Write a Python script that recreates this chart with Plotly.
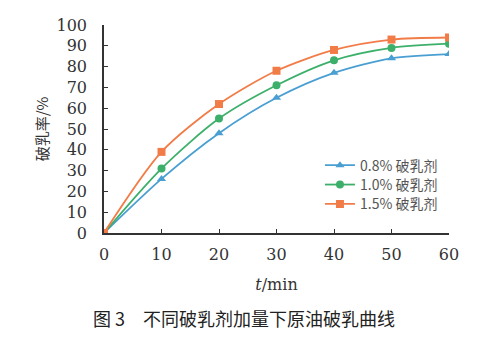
import plotly.graph_objects as go

# Demulsification time (min) and demulsification rate (%) per dosage
t_min = [0, 10, 20, 30, 40, 50, 60]
rate_08 = [0, 26, 48, 65, 77, 84, 86]
rate_10 = [0, 31, 55, 71, 83, 89, 91]
rate_15 = [0, 39, 62, 78, 88, 93, 94]

series_names = ["0.8% 破乳剂", "1.0% 破乳剂", "1.5% 破乳剂"]
series_values = [rate_08, rate_10, rate_15]
colors = ["#4a9fd2", "#3cb06a", "#f27c48"]
symbols = ["triangle-up", "circle", "square"]
legend_ids = ["legend", "legend2", "legend3"]
legend_rows = [0.324, 0.231, 0.138]

x_ticks = [0, 10, 20, 30, 40, 50, 60]
y_ticks = [0, 10, 20, 30, 40, 50, 60, 70, 80, 90, 100]

SERIF = "DejaVu Serif"
CJK = "Noto Sans CJK SC"
INK = "#333333"

fig = go.Figure()
for name, vals, col, sym, lg in zip(series_names, series_values, colors, symbols, legend_ids):
    fig.add_trace(go.Scatter(
        x=t_min, y=vals, name=name, mode="lines+markers", legend=lg,
        line=dict(color=col, width=1.8, shape="spline", smoothing=0.8),
        marker=dict(symbol=sym, size=8, color=col),
    ))

# one legend per series so the rows can sit tightly together
legend_common = dict(
    x=0.626, xanchor="left", yanchor="middle",
    font=dict(family=CJK, size=14, color="#555555"),
    bgcolor="rgba(0,0,0,0)", borderwidth=0,
)
layout_legends = {lg: dict(y=yy, **legend_common) for lg, yy in zip(legend_ids, legend_rows)}

fig.update_layout(
    width=492, height=342,
    margin=dict(l=104, r=43, t=25, b=109),
    paper_bgcolor="white", plot_bgcolor="white",
    showlegend=True,
    font=dict(family=SERIF, color=INK),
    **layout_legends,
)
fig.update_xaxes(
    range=[0, 60], tickvals=x_ticks, ticks="inside", ticklen=4,
    tickcolor=INK, showline=True, linecolor=INK, linewidth=1.5,
    showgrid=False, zeroline=False, ticklabelstandoff=6,
    tickfont=dict(family=SERIF, size=16, color=INK),
    title=dict(text="<i>t</i>/min", font=dict(family=SERIF, size=16, color=INK), standoff=16),
)
fig.update_yaxes(
    range=[0, 100], tickvals=y_ticks, ticks="inside", ticklen=4,
    tickcolor=INK, showline=True, linecolor=INK, linewidth=1.5,
    showgrid=False, zeroline=False, ticklabelstandoff=12,
    tickfont=dict(family=SERIF, size=16, color=INK),
    title=dict(text="破乳率/%", font=dict(family=CJK, size=15, color=INK), standoff=4),
)
fig.add_annotation(
    text="图 3　不同破乳剂加量下原油破乳曲线",
    xref="paper", yref="paper", x=0.405, y=-0.41, xanchor="center", yanchor="middle",
    showarrow=False, font=dict(family=CJK, size=18, color="#222222"),
)

fig.write_html("out.html")
